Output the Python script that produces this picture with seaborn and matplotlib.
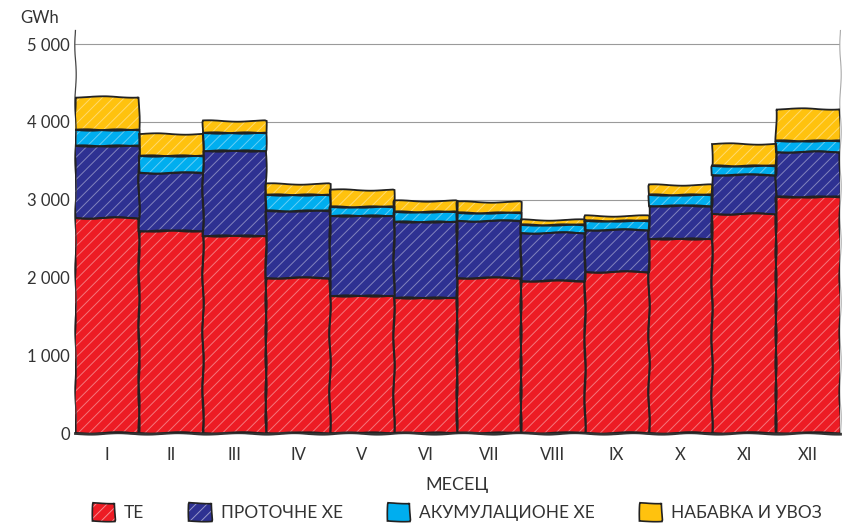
import numpy as np
import seaborn as sns
import matplotlib.pyplot as plt
from matplotlib.patches import Patch

months = ["I", "II", "III", "IV", "V", "VI", "VII", "VIII", "IX", "X", "XI", "XII"]
te = [2770, 2600, 2530, 1995, 1765, 1735, 2000, 1955, 2065, 2500, 2820, 3030]
protocne = [925, 740, 1090, 865, 1030, 980, 730, 615, 550, 425, 500, 580]
akumulacione = [195, 225, 235, 195, 105, 125, 105, 105, 105, 130, 115, 150]
uvoz = [435, 280, 155, 150, 225, 145, 135, 65, 75, 130, 280, 410]

names = ["ТЕ", "ПРОТОЧНЕ ХЕ", "АКУМУЛАЦИОНЕ ХЕ", "НАБАВКА И УВОЗ"]
colors = ["#ED1C24", "#2E3192", "#00AEEF", "#FFC20E"]

sns.set_style("white")
plt.rcParams["font.family"] = ["Lato", "DejaVu Sans"]
plt.rcParams["hatch.linewidth"] = 0.7
plt.rcParams["hatch.color"] = (1, 1, 1, 0.45)
plt.rcParams["path.sketch"] = (0.7, 60, 1.5)

fig = plt.figure(figsize=(8.63, 5.27), dpi=100)
ax = fig.add_axes([0.087, 0.178, 0.886, 0.765])

bottom = np.zeros(len(months))
for vals, color in zip([te, protocne, akumulacione, uvoz], colors):
    # fill with light hatch, then a dark outline on top
    sns.barplot(x=months, y=vals, bottom=bottom, color=color, saturation=1,
                width=1, edgecolor=(1, 1, 1, 0.4), linewidth=0, hatch="///",
                ax=ax, zorder=2)
    sns.barplot(x=months, y=vals, bottom=bottom, color="#222222", fill=False,
                width=1, linewidth=1.3, ax=ax, zorder=3)
    bottom = bottom + np.array(vals)

ax.set_ylim(0, 5180)
ax.set_xlim(-0.5, 11.5)
ticks = list(range(0, 5001, 1000))
ax.set_yticks(ticks)
ax.set_yticklabels([f"{t:,}".replace(",", " ") for t in ticks])
ax.yaxis.grid(True, color="#9a9a9a", linewidth=0.8)
for gl in ax.get_ygridlines():
    gl.set_sketch_params(None)
ax.set_axisbelow(True)
ax.tick_params(length=0, labelsize=12, colors="#333333")
ax.tick_params(axis="x", pad=10)
ax.set_xlabel("МЕСЕЦ", fontsize=13, color="#333333", labelpad=10)
ax.set_ylabel("")

ax.spines["top"].set_visible(False)
ax.spines["right"].set_color("#aaaaaa")
ax.spines["right"].set_linewidth(0.8)
ax.spines["left"].set_color("#444444")
ax.spines["left"].set_linewidth(0.9)
ax.spines["bottom"].set_color("#333333")
ax.spines["bottom"].set_linewidth(2)

fig.text(20 / 863, 1 - 18 / 527, "GWh", fontsize=12, color="#333333", va="center")

handles = []
for i, c in enumerate(colors):
    fill = Patch(facecolor=c, edgecolor=(1, 1, 1, 0.5), linewidth=0,
                 hatch="///" if i < 2 else None)
    outline = Patch(facecolor="none", edgecolor="#222222", linewidth=1.2)
    handles.append((fill, outline))
fig.legend(handles, names, loc="center", bbox_to_anchor=(0.53, 1 - 512 / 527),
           ncol=4, frameon=False, fontsize=12.5, handlelength=1.3,
           handleheight=1.3, handletextpad=0.5, columnspacing=2.6,
           labelcolor="#333333")

fig.savefig("out.png", dpi=100)
